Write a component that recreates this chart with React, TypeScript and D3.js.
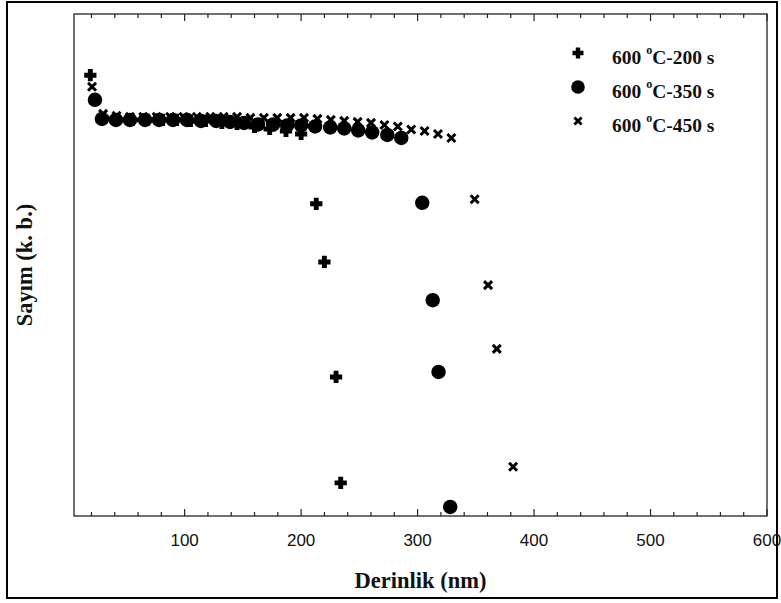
import React from "react";
import * as d3 from "d3";

// ---- data (depth in nm, counts in arbitrary units) ----
const plus200X = [19, 30, 42, 55, 68, 81, 93, 105, 118, 132, 145, 160, 173, 187, 200, 213, 220, 230, 234];
const plus200Y = [87.8, 79.3, 78.9, 78.9, 78.9, 78.9, 78.9, 78.7, 78.7, 78.3, 78.1, 77.5, 77.1, 76.7, 76.1, 62.2, 50.6, 27.7, 6.6];

const circle350X = [23, 29, 41, 53, 66, 78, 90, 102, 114, 127, 139, 151, 163, 176, 188, 200, 212, 225, 237, 249, 261, 274, 286, 304, 313, 318, 328];
const circle350Y = [82.9, 79.1, 78.9, 78.9, 78.9, 78.9, 78.9, 78.9, 78.7, 78.7, 78.5, 78.3, 78.0, 78.0, 77.8, 77.8, 77.6, 77.4, 77.2, 76.8, 76.4, 75.9, 75.3, 62.4, 43.0, 28.7, 1.8];

const x450X = [20.5, 30, 41.5, 53, 64.5, 76, 87.5, 99, 110.5, 122, 133.5, 145, 156.5, 168, 179.5, 191, 202.5, 214, 225.5, 237, 248.5, 260, 271.5, 283, 294.5, 306, 317.5, 329, 349, 360.5, 368, 382];
const x450Y = [85.5, 80.1, 79.7, 79.5, 79.5, 79.5, 79.5, 79.5, 79.5, 79.5, 79.5, 79.5, 79.3, 79.3, 79.3, 79.3, 79.3, 79.1, 78.9, 78.7, 78.5, 78.3, 77.9, 77.6, 77.0, 76.7, 76.1, 75.3, 63.1, 46.0, 33.3, 9.8];

const seriesNames = ["200 s", "350 s", "450 s"];
const majorTicks = [100, 200, 300, 400, 500, 600];
const minorTicks = d3.range(20, 601, 20);

const W = 781;
const H = 603;
const left = 74, right = 767, top = 14, bottom = 516;

// thick plus: size = (full width)^2
const thickPlus = {
  draw(ctx: any, size: number) {
    const a = Math.sqrt(size) / 2;
    const b = a * 0.4;
    ctx.moveTo(-b, -a);
    ctx.lineTo(b, -a);
    ctx.lineTo(b, -b);
    ctx.lineTo(a, -b);
    ctx.lineTo(a, b);
    ctx.lineTo(b, b);
    ctx.lineTo(b, a);
    ctx.lineTo(-b, a);
    ctx.lineTo(-b, b);
    ctx.lineTo(-a, b);
    ctx.lineTo(-a, -b);
    ctx.lineTo(-b, -b);
    ctx.closePath();
  },
};
// diagonal cross: size = (full width)^2
const diagX = {
  draw(ctx: any, size: number) {
    const a = Math.sqrt(size) / 2;
    ctx.moveTo(-a, -a);
    ctx.lineTo(a, a);
    ctx.moveTo(a, -a);
    ctx.lineTo(-a, a);
  },
};

export default function App() {
  const x = d3.scaleLinear().domain([5, 600]).range([left, right]);
  const y = d3.scaleLinear().domain([0, 100]).range([bottom, top]);

  const plusPath = d3.symbol(thickPlus as any, 150)()!;
  const circlePath = d3.symbol(d3.symbolCircle, 165)()!;
  const xPath = d3.symbol(diagX as any, 64)()!;
  const legPlus = d3.symbol(thickPlus as any, 121)()!;
  const legCircle = d3.symbol(d3.symbolCircle, 145)()!;
  const legX = d3.symbol(diagX as any, 52)()!;

  const serif = "'Liberation Serif', 'Times New Roman', serif";
  const sans = "'Liberation Sans', Arial, sans-serif";

  const marks = [
    { xs: plus200X, ys: plus200Y, d: plusPath, stroke: false },
    { xs: circle350X, ys: circle350Y, d: circlePath, stroke: false },
    { xs: x450X, ys: x450Y, d: xPath, stroke: true },
  ];
  const legSyms = [
    { d: legPlus, stroke: false },
    { d: legCircle, stroke: false },
    { d: legX, stroke: true },
  ];

  return (
    <svg width={W} height={H} style={{ position: "absolute", left: 0, top: 0, background: "#fff" }}>
      <rect x={0} y={0} width={W} height={H} fill="#fff" />
      {/* outer frame */}
      <rect x={7} y={2} width={770} height={596} fill="none" stroke="#000" strokeWidth={2} />
      {/* plot frame */}
      <rect x={left} y={top} width={right - left} height={bottom - top} fill="none" stroke="#222" strokeWidth={1.3} />
      {/* ticks */}
      {minorTicks.map((t) => {
        const len = t % 100 === 0 ? 7 : 4;
        return (
          <g key={t}>
            <line x1={x(t)} x2={x(t)} y1={bottom} y2={bottom - len} stroke="#222" strokeWidth={1.2} />
            <line x1={x(t)} x2={x(t)} y1={top} y2={top + len} stroke="#222" strokeWidth={1.2} />
          </g>
        );
      })}
      {majorTicks.map((t) => (
        <text key={t} x={x(t)} y={546} textAnchor="middle" fontFamily={sans} fontSize={17} fill="#111">
          {t}
        </text>
      ))}
      {/* axis titles */}
      <text x={(left + right) / 2} y={588} textAnchor="middle" fontFamily={serif} fontWeight="bold" fontSize={22.5} fill="#111">
        Derinlik (nm)
      </text>
      <text
        transform={`translate(32, ${(top + bottom) / 2}) rotate(-90)`}
        textAnchor="middle"
        fontFamily={serif}
        fontWeight="bold"
        fontSize={22.5}
        fill="#111"
      >
        Sayım (k. b.)
      </text>
      {/* data */}
      {marks.map((m, si) => (
        <g key={si}>
          {m.xs.map((v, i) => (
            <path
              key={i}
              d={m.d}
              transform={`translate(${x(v)},${y(m.ys[i])})`}
              fill={m.stroke ? "none" : "#000"}
              stroke="#000"
              strokeWidth={m.stroke ? 3 : 0}
            />
          ))}
        </g>
      ))}
      {/* legend */}
      {seriesNames.map((name, i) => {
        const cy = 53 + i * 34;
        const s = legSyms[i];
        return (
          <g key={name}>
            <path
              d={s.d}
              transform={`translate(578,${cy})`}
              fill={s.stroke ? "none" : "#000"}
              stroke="#000"
              strokeWidth={s.stroke ? 2.8 : 0}
            />
            <text x={612} y={cy + 11} fontFamily={serif} fontWeight="bold" fontSize={19.5} fill="#111">
              600{" "}
              <tspan fontSize={12} dy={-10}>o</tspan>
              <tspan dy={10}>C-{name}</tspan>
            </text>
          </g>
        );
      })}
    </svg>
  );
}
